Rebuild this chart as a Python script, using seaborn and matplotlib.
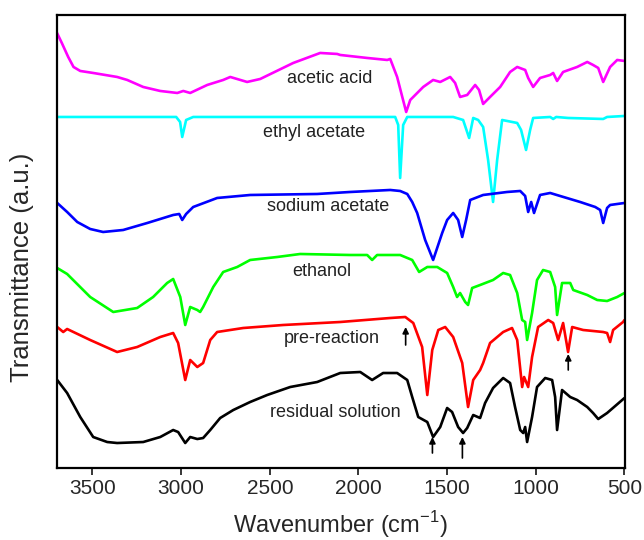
import numpy as np
import pandas as pd
import matplotlib
matplotlib.use("Agg")
import matplotlib.pyplot as plt
import seaborn as sns

# ---------------- data (wavenumber in cm^-1, transmittance in a.u.) ----------------
acetic_wn = [3700, 3673, 3637, 3607, 3569, 3496, 3361, 3304, 3214, 3118, 3022, 2988, 2949,
             2853, 2763, 2723, 2628, 2554, 2368, 2216, 2120, 2103, 1951, 1838, 1821, 1782,
             1753, 1731, 1708, 1635, 1579, 1539, 1483, 1455, 1427, 1387, 1342, 1320, 1297,
             1258, 1201, 1145, 1105, 1060, 1043, 1015, 976, 919, 902, 880, 846, 767, 710,
             677, 648, 620, 581, 541, 500]
acetic_t = [437, 427, 413, 403, 399, 397, 393, 390, 383, 379, 377, 379, 377,
            385, 390, 393, 388, 391, 407, 417, 416, 415, 412, 410, 411, 393,
            373, 358, 370, 383, 390, 388, 393, 387, 373, 375, 385, 380, 366,
            373, 383, 398, 403, 400, 392, 383, 392, 395, 397, 389, 398, 403, 408,
            405, 402, 388, 403, 410, 409]

ethyl_wn = [3700, 3028, 3006, 2994, 2972, 2932, 1793, 1776, 1765, 1748, 1725, 1466, 1410,
            1376, 1353, 1325, 1297, 1269, 1241, 1218, 1190, 1105, 1083, 1055, 1032, 1015,
            919, 902, 885, 818, 620, 598, 500]
ethyl_t = [353, 353, 348, 333, 350, 353, 353, 345, 292, 345, 353, 353, 350,
           332, 352, 350, 343, 310, 268, 310, 350, 347, 340, 320, 340, 352,
           353, 351, 353, 352, 351, 353, 354]

sodium_wn = [3699, 3643, 3586, 3513, 3440, 3327, 3191, 3045, 3011, 2994, 2972, 2932, 2797,
             2611, 2233, 2047, 1821, 1765, 1725, 1697, 1669, 1624, 1579, 1528, 1500, 1466,
             1438, 1415, 1393, 1370, 1297, 1162, 1088, 1060, 1043, 1026, 1010, 976, 919,
             863, 750, 665, 637, 620, 598, 581, 500]
sodium_t = [267, 258, 248, 241, 238, 240, 247, 255, 256, 250, 256, 263, 272,
            275, 276, 278, 280, 279, 276, 268, 257, 230, 210, 237, 250, 257,
            250, 233, 250, 270, 275, 278, 279, 274, 258, 268, 257, 275, 277,
            274, 268, 263, 260, 247, 262, 265, 267]

ethanol_wn = [3699, 3643, 3513, 3383, 3248, 3158, 3079, 3045, 3005, 2977, 2949, 2909, 2893,
              2876, 2819, 2763, 2684, 2611, 2458, 2329, 2047, 1951, 1923, 1895, 1765, 1697,
              1658, 1612, 1556, 1500, 1466, 1444, 1427, 1398, 1382, 1359, 1314, 1241, 1184,
              1145, 1105, 1077, 1060, 1049, 1021, 993, 959, 919, 891, 880, 852, 806, 789,
              710, 654, 598, 541, 500]
ethanol_t = [202, 196, 173, 158, 162, 173, 187, 191, 173, 145, 163, 160, 158,
             163, 183, 198, 203, 210, 213, 216, 215, 215, 210, 215, 215, 210,
             198, 203, 203, 197, 183, 173, 177, 168, 165, 182, 185, 190, 197,
             195, 177, 150, 148, 130, 157, 190, 200, 198, 183, 155, 187, 187, 180,
             175, 170, 169, 173, 177]

prereact_wn = [3699, 3665, 3643, 3513, 3361, 3248, 3118, 3045, 3017, 2977, 2949, 2909, 2876,
               2836, 2797, 2650, 2425, 2103, 1821, 1736, 1691, 1641, 1612, 1584, 1550, 1511,
               1466, 1415, 1382, 1353, 1314, 1297, 1258, 1184, 1134, 1105, 1077, 1066, 1043,
               1021, 987, 930, 902, 874, 846, 818, 795, 733, 620, 598, 581, 564, 508, 500]
prereact_t = [143, 138, 141, 130, 118, 123, 133, 137, 127, 90, 110, 103, 107,
              130, 138, 142, 145, 148, 152, 153, 147, 123, 75, 120, 140, 143,
              133, 107, 63, 90, 100, 107, 127, 138, 142, 130, 83, 93, 83,
              113, 143, 150, 147, 130, 147, 118, 143, 140, 138, 137, 128, 140, 148, 150]

residual_wn = [3699, 3643, 3569, 3496, 3417, 3361, 3214, 3118, 3045, 3017, 2977, 2949, 2909,
               2876, 2836, 2780, 2706, 2611, 2515, 2385, 2233, 2103, 1990, 1923, 1861, 1782,
               1725, 1697, 1663, 1612, 1579, 1539, 1500, 1472, 1438, 1410, 1387, 1353, 1314,
               1286, 1241, 1184, 1145, 1117, 1088, 1071, 1060, 1049, 1021, 993, 947, 908, 891,
               880, 852, 806, 767, 710, 677, 648, 598, 500]
residual_t = [90, 77, 53, 33, 28, 27, 28, 33, 40, 38, 27, 33, 31,
              32, 40, 52, 60, 68, 75, 83, 88, 97, 98, 90, 97, 97,
              90, 73, 53, 48, 33, 43, 62, 58, 43, 37, 42, 55, 52,
              67, 82, 92, 87, 63, 40, 37, 43, 28, 53, 83, 92, 90, 73,
              40, 80, 73, 70, 63, 57, 51, 57, 72]

sample_names = ["acetic acid", "ethyl acetate", "sodium acetate",
                "ethanol", "pre-reaction", "residual solution"]

# arrows marking bands (wavenumber, tail value, tip value)
arrow_wn = [1734, 817, 1583, 1414]
arrow_tail = [125, 100, 17, 12]
arrow_tip = [143, 116, 33, 33]

# ---------------- build table ----------------
series = [(acetic_wn, acetic_t), (ethyl_wn, ethyl_t), (sodium_wn, sodium_t),
          (ethanol_wn, ethanol_t), (prereact_wn, prereact_t), (residual_wn, residual_t)]
frames = []
for name, (wn, t) in zip(sample_names, series):
    frames.append(pd.DataFrame({"wn": wn, "T": t, "sample": name}))
df = pd.concat(frames, ignore_index=True)

palette = {"acetic acid": "#ff00ff", "ethyl acetate": "#00ffff",
           "sodium acetate": "#0000ff", "ethanol": "#00ff00",
           "pre-reaction": "#ff0000", "residual solution": "#000000"}

sns.set_style("ticks")
plt.rcParams["font.family"] = ["Liberation Sans", "DejaVu Sans"]
plt.rcParams["mathtext.fontset"] = "custom"
plt.rcParams["mathtext.rm"] = "Liberation Sans"

fig = plt.figure(figsize=(6.44, 5.40), dpi=100)
ax = fig.add_axes([0.088, 0.1333, 0.8825, 0.839])

sns.lineplot(data=df, x="wn", y="T", hue="sample", palette=palette,
             estimator=None, sort=False, linewidth=1.9, legend=False, ax=ax)

ax.set_xlim(3702, 497)
ax.set_ylim(2, 455)
ax.set_xticks([3500, 3000, 2500, 2000, 1500, 1000, 500])
ax.set_yticks([])
ax.tick_params(axis="x", direction="out", length=5, width=1.3, labelsize=15, pad=3)
for s in ax.spines.values():
    s.set_visible(True)
    s.set_linewidth(1.6)
    s.set_color("black")

ax.set_xlabel("Wavenumber (cm$^{\\mathregular{-1}}$)", fontsize=17, labelpad=8)
ax.set_ylabel("Transmittance (a.u.)", fontsize=18.5)
ax.yaxis.set_label_coords(-0.040, 0.442)

# curve labels (layout positions)
label_pos = [(2160, 391), (2250, 337), (2174, 263), (2208, 198), (2152, 132), (2131, 58)]
for name, (lx, ly) in zip(sample_names, label_pos):
    ax.text(lx, ly, name, ha="center", va="center", fontsize=13, color="#222222")

for xw, t0, t1 in zip(arrow_wn, arrow_tail, arrow_tip):
    ax.annotate("", xy=(xw, t1), xytext=(xw, t0),
                arrowprops=dict(arrowstyle="-|>", color="black", lw=1.2,
                                mutation_scale=9, shrinkA=0, shrinkB=0))

fig.savefig("out.png", dpi=100)
